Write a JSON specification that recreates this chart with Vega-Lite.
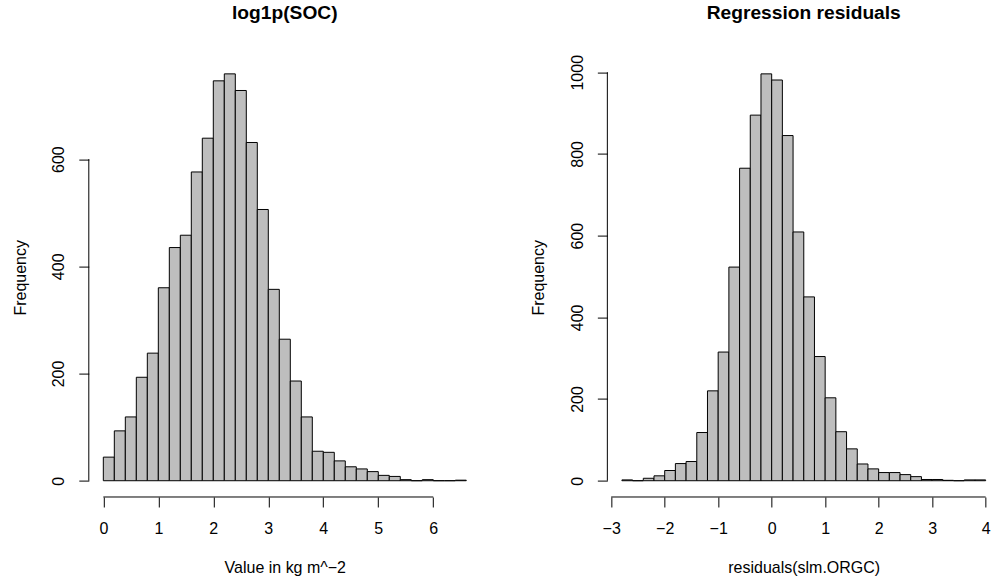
{
  "$schema": "https://vega.github.io/schema/vega-lite/v6.json",
  "autosize": {"type": "none"},
  "padding": {"left": 88.8, "top": 57.6, "right": 903.2, "bottom": 521.6},
  "background": "white",
  "bounds": "flush",
  "spacing": 126.55,
  "config": {
    "font": "Liberation Sans",
    "view": {"stroke": null},
    "axis": {
      "domain": false, "grid": false, "ticks": true, "tickSize": 10, "tickColor": "black", "tickWidth": 1,
      "labelFont": "Liberation Sans", "labelFontSize": 16, "labelColor": "black", "labelFlush": false, "labelOverlap": false,
      "titleFont": "Liberation Sans", "titleFontSize": 16, "titleFontWeight": "normal", "titleColor": "black", "titleBaseline": "alphabetic"
    },
    "axisBottom": {"labelBaseline": "alphabetic", "labelPadding": 26.6, "titleX": 196, "titleY": 75.5, "titleAngle": 0, "titleAlign": "center"},
    "axisLeft": {"labelAngle": -90, "labelAlign": "center", "labelBaseline": "alphabetic", "labelPadding": 15.3, "titleX": -63.7, "titleY": 219.7, "titleAngle": -90, "titleAlign": "center"},
    "title": {"font": "Liberation Sans", "fontSize": 19.2, "fontWeight": "bold", "color": "black", "anchor": "middle", "frame": "group", "baseline": "alphabetic"}
  },
  "datasets": {
    "soc": [
      {"bin_start": 0.0, "bin_end": 0.2, "count": 44},
      {"bin_start": 0.2, "bin_end": 0.4, "count": 93},
      {"bin_start": 0.4, "bin_end": 0.6, "count": 119},
      {"bin_start": 0.6, "bin_end": 0.8, "count": 193},
      {"bin_start": 0.8, "bin_end": 1.0, "count": 238},
      {"bin_start": 1.0, "bin_end": 1.2, "count": 360},
      {"bin_start": 1.2, "bin_end": 1.4, "count": 435},
      {"bin_start": 1.4, "bin_end": 1.6, "count": 458},
      {"bin_start": 1.6, "bin_end": 1.8, "count": 576},
      {"bin_start": 1.8, "bin_end": 2.0, "count": 639},
      {"bin_start": 2.0, "bin_end": 2.2, "count": 746},
      {"bin_start": 2.2, "bin_end": 2.4, "count": 759},
      {"bin_start": 2.4, "bin_end": 2.6, "count": 728},
      {"bin_start": 2.6, "bin_end": 2.8, "count": 631},
      {"bin_start": 2.8, "bin_end": 3.0, "count": 506},
      {"bin_start": 3.0, "bin_end": 3.2, "count": 357},
      {"bin_start": 3.2, "bin_end": 3.4, "count": 264},
      {"bin_start": 3.4, "bin_end": 3.6, "count": 186},
      {"bin_start": 3.6, "bin_end": 3.8, "count": 119},
      {"bin_start": 3.8, "bin_end": 4.0, "count": 55},
      {"bin_start": 4.0, "bin_end": 4.2, "count": 53},
      {"bin_start": 4.2, "bin_end": 4.4, "count": 37},
      {"bin_start": 4.4, "bin_end": 4.6, "count": 26},
      {"bin_start": 4.6, "bin_end": 4.8, "count": 22},
      {"bin_start": 4.8, "bin_end": 5.0, "count": 17},
      {"bin_start": 5.0, "bin_end": 5.2, "count": 10},
      {"bin_start": 5.2, "bin_end": 5.4, "count": 8},
      {"bin_start": 5.4, "bin_end": 5.6, "count": 2},
      {"bin_start": 5.6, "bin_end": 5.8, "count": 0},
      {"bin_start": 5.8, "bin_end": 6.0, "count": 2},
      {"bin_start": 6.0, "bin_end": 6.2, "count": 0},
      {"bin_start": 6.2, "bin_end": 6.4, "count": 0},
      {"bin_start": 6.4, "bin_end": 6.6, "count": 1}
    ],
    "resid": [
      {"bin_start": -2.8, "bin_end": -2.6, "count": 2},
      {"bin_start": -2.6, "bin_end": -2.4, "count": 0},
      {"bin_start": -2.4, "bin_end": -2.2, "count": 6},
      {"bin_start": -2.2, "bin_end": -2.0, "count": 12},
      {"bin_start": -2.0, "bin_end": -1.8, "count": 25},
      {"bin_start": -1.8, "bin_end": -1.6, "count": 42},
      {"bin_start": -1.6, "bin_end": -1.4, "count": 47},
      {"bin_start": -1.4, "bin_end": -1.2, "count": 118},
      {"bin_start": -1.2, "bin_end": -1.0, "count": 220},
      {"bin_start": -1.0, "bin_end": -0.8, "count": 315},
      {"bin_start": -0.8, "bin_end": -0.6, "count": 523},
      {"bin_start": -0.6, "bin_end": -0.4, "count": 765},
      {"bin_start": -0.4, "bin_end": -0.2, "count": 895},
      {"bin_start": -0.2, "bin_end": 0.0, "count": 996},
      {"bin_start": 0.0, "bin_end": 0.2, "count": 981},
      {"bin_start": 0.2, "bin_end": 0.4, "count": 845},
      {"bin_start": 0.4, "bin_end": 0.6, "count": 609},
      {"bin_start": 0.6, "bin_end": 0.8, "count": 450},
      {"bin_start": 0.8, "bin_end": 1.0, "count": 304},
      {"bin_start": 1.0, "bin_end": 1.2, "count": 203},
      {"bin_start": 1.2, "bin_end": 1.4, "count": 120},
      {"bin_start": 1.4, "bin_end": 1.6, "count": 78},
      {"bin_start": 1.6, "bin_end": 1.8, "count": 41},
      {"bin_start": 1.8, "bin_end": 2.0, "count": 29},
      {"bin_start": 2.0, "bin_end": 2.2, "count": 20},
      {"bin_start": 2.2, "bin_end": 2.4, "count": 20},
      {"bin_start": 2.4, "bin_end": 2.6, "count": 15},
      {"bin_start": 2.6, "bin_end": 2.8, "count": 10},
      {"bin_start": 2.8, "bin_end": 3.0, "count": 3},
      {"bin_start": 3.0, "bin_end": 3.2, "count": 3},
      {"bin_start": 3.2, "bin_end": 3.4, "count": 1},
      {"bin_start": 3.4, "bin_end": 3.6, "count": 0},
      {"bin_start": 3.6, "bin_end": 3.8, "count": 2},
      {"bin_start": 3.8, "bin_end": 4.0, "count": 2}
    ]
  },
  "hconcat": [
    {
      "width": 392,
      "height": 439.4,
      "title": {"text": "log1p(SOC)", "offset": 34.6},
      "layer": [
        {
          "data": {"name": "soc"},
          "mark": {"type": "rect", "fill": "#bebebe", "stroke": "black", "strokeWidth": 1},
          "encoding": {
            "x": {"field": "bin_start", "type": "quantitative",
                  "scale": {"domain": [-0.264, 6.864], "nice": false, "zero": false},
                  "axis": {"values": [0, 1, 2, 3, 4, 5, 6], "format": "d", "title": "Value in kg m^−2"}},
            "x2": {"field": "bin_end"},
            "y": {"field": "count", "type": "quantitative",
                  "scale": {"domain": [-30.36, 789.36], "nice": false, "zero": false},
                  "axis": {"values": [0, 200, 400, 600], "format": "d", "title": "Frequency"}},
            "y2": {"datum": 0}
          }
        },
        {
          "data": {"values": [{}]},
          "mark": {"type": "rule", "color": "black", "strokeWidth": 1},
          "encoding": {
            "x": {"datum": 0, "type": "quantitative"},
            "x2": {"datum": 6},
            "y": {"datum": -30.36, "type": "quantitative"}
          }
        },
        {
          "data": {"values": [{}]},
          "mark": {"type": "rule", "color": "black", "strokeWidth": 1},
          "encoding": {
            "x": {"datum": -0.264, "type": "quantitative"},
            "y": {"datum": 0, "type": "quantitative"},
            "y2": {"datum": 600}
          }
        }
      ]
    },
    {
      "width": 384.6,
      "height": 439.4,
      "title": {"text": "Regression residuals", "offset": 31.4, "dx": 4.1},
      "layer": [
        {
          "data": {"name": "resid"},
          "mark": {"type": "rect", "fill": "#bebebe", "stroke": "black", "strokeWidth": 1},
          "encoding": {
            "x": {"field": "bin_start", "type": "quantitative",
                  "scale": {"domain": [-3.072, 4.118], "nice": false, "zero": false},
                  "axis": {"values": [-3, -2, -1, 0, 1, 2, 3, 4], "format": "d", "title": "residuals(slm.ORGC)", "titleX": 196.35}},
            "x2": {"field": "bin_end"},
            "y": {"field": "count", "type": "quantitative",
                  "scale": {"domain": [-39.84, 1035.84], "nice": false, "zero": false},
                  "axis": {"values": [0, 200, 400, 600, 800, 1000], "format": "d", "title": "Frequency"}},
            "y2": {"datum": 0}
          }
        },
        {
          "data": {"values": [{}]},
          "mark": {"type": "rule", "color": "black", "strokeWidth": 1},
          "encoding": {
            "x": {"datum": -3, "type": "quantitative"},
            "x2": {"datum": 4},
            "y": {"datum": -39.84, "type": "quantitative"}
          }
        },
        {
          "data": {"values": [{}]},
          "mark": {"type": "rule", "color": "black", "strokeWidth": 1},
          "encoding": {
            "x": {"datum": -3.072, "type": "quantitative"},
            "y": {"datum": 0, "type": "quantitative"},
            "y2": {"datum": 1000}
          }
        }
      ]
    }
  ]
}
